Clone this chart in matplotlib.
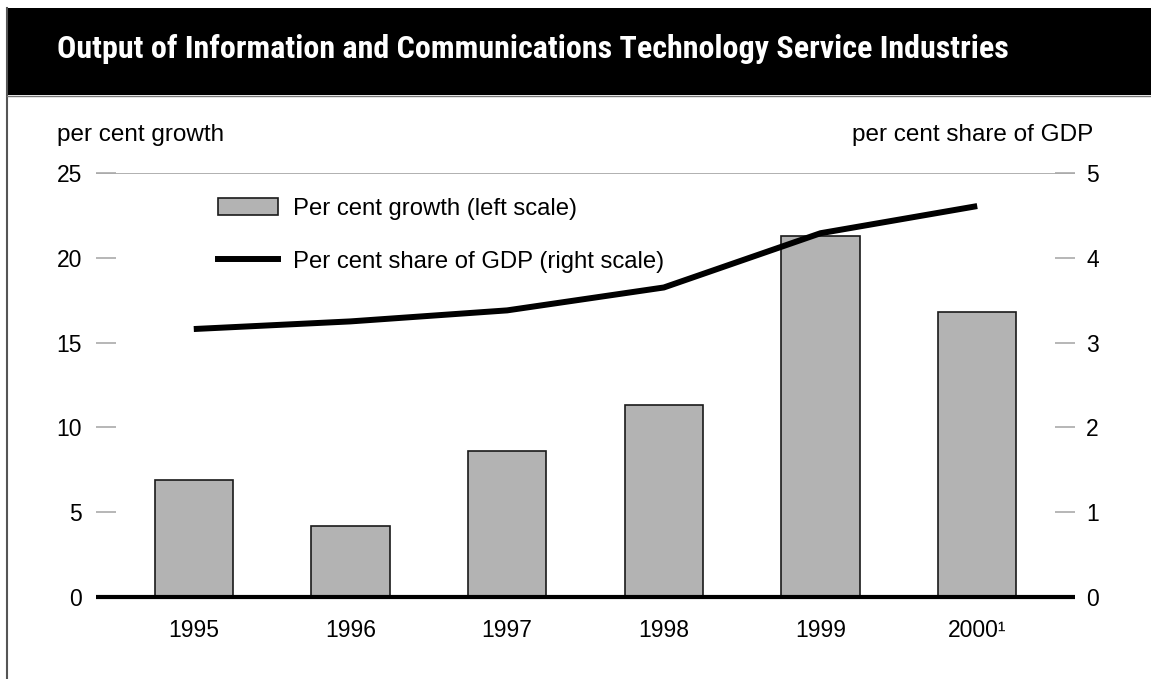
import matplotlib
matplotlib.use("Agg")
import matplotlib.pyplot as plt
from matplotlib.patches import Patch
from matplotlib.lines import Line2D

plt.rcParams['font.family'] = ['Liberation Sans', 'DejaVu Sans']

years = ['1995', '1996', '1997', '1998', '1999', '2000\u00b9']
growth = [6.9, 4.2, 8.6, 11.3, 21.3, 16.8]
gdp_share = [3.16, 3.25, 3.38, 3.65, 4.29, 4.61]
left_ticks = [0, 5, 10, 15, 20, 25]
right_ticks = [0, 1, 2, 3, 4, 5]

W, H = 1151, 679
fig = plt.figure(figsize=(W / 100, H / 100), dpi=100)

# black title band + left frame line
band = fig.add_axes([7 / W, 1 - 95 / H, 1 - 7 / W, 87 / H])
band.set_facecolor('black')
band.set_xticks([])
band.set_yticks([])
for s in band.spines.values():
    s.set_visible(False)
band.text(50 / (W - 7), 0.53, 'Output of Information and Communications Technology Service Industries',
          color='white', fontsize=23, fontweight='bold', va='center', ha='left',
          family=['Roboto Condensed', 'IBM Plex Sans Condensed', 'DejaVu Sans'],
          transform=band.transAxes)
fig.add_artist(Line2D([7 / W, 7 / W], [0, 1 - 8 / H], color='#555555', lw=1.5))
fig.add_artist(Line2D([7 / W, 1], [1 - 95.5 / H, 1 - 95.5 / H], color='#777777', lw=1))

ax = fig.add_axes([96 / W, 1 - 597 / H, (1075 - 96) / W, (597 - 173) / H])
x = range(len(years))
ax.bar(x, growth, width=0.5, color='#b3b3b3', edgecolor='#1a1a1a', linewidth=1.2, zorder=2)
ax.axhline(25, color='#aaaaaa', lw=1.3, zorder=1)
ax.set_xlim(-0.624, 5.624)
ax.set_ylim(0, 25)
ax.set_yticks(left_ticks)
ax.set_xticks(list(x))
ax.set_xticklabels(years)
ax.tick_params(axis='y', direction='in', length=14.5, width=1.2, color='#aaaaaa',
               pad=10, labelsize=16.5)
ax.tick_params(axis='x', length=0, pad=16, labelsize=16.5)
for s in ax.spines.values():
    s.set_visible(False)
ax.patch.set_visible(False)

ax2 = ax.twinx()
ax2.plot(list(x), gdp_share, color='black', lw=4.3, solid_capstyle='butt', zorder=4)
ax2.axhline(0, color='black', lw=3, zorder=5, clip_on=False, solid_capstyle='butt')
ax2.set_ylim(0, 5)
ax2.set_yticks(right_ticks)
ax2.tick_params(axis='y', direction='in', length=14.5, width=1.2, color='#aaaaaa',
                pad=8, labelsize=16.5)
for s in ax2.spines.values():
    s.set_visible(False)

fig.text(57 / W, 1 - 135 / H, 'per cent growth', fontsize=17.5, ha='left', va='center')
fig.text(1093 / W, 1 - 135 / H, 'per cent share of GDP', fontsize=17.5, ha='right', va='center')

handles = [Patch(facecolor='#b3b3b3', edgecolor='#1a1a1a', linewidth=1.2),
           Line2D([0], [0], color='black', lw=4.3)]
labels = ['Per cent growth (left scale)', 'Per cent share of GDP (right scale)']
ax2.legend(handles, labels, loc='upper left', bbox_to_anchor=(218 / W, 1 - 198 / H),
           bbox_transform=fig.transFigure, frameon=False, fontsize=17.2,
           borderpad=0, borderaxespad=0, handlelength=2.5, handletextpad=0.62,
           labelspacing=1.28)

fig.savefig('out.png', dpi=100)
